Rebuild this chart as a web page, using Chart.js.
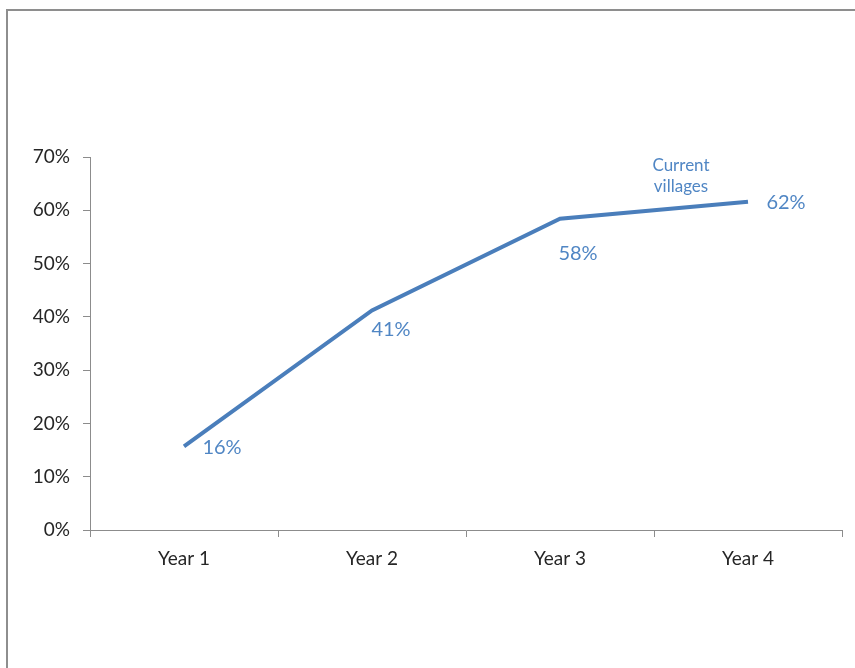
<!DOCTYPE html>
<html>
<head>
<meta charset="utf-8">
<script src="https://cdn.jsdelivr.net/npm/chart.js@4"></script>
<style>
  html, body { margin: 0; padding: 0; background: #fff; }
  #wrap { position: relative; width: 855px; height: 668px; }
</style>
</head>
<body>
<div id="wrap"><canvas id="chart"></canvas></div>
<script>
// данные
const years = ['Year 1', 'Year 2', 'Year 3', 'Year 4'];
const share = [0.157, 0.412, 0.584, 0.616];
const yTicks = [0, 0.1, 0.2, 0.3, 0.4, 0.5, 0.6, 0.7];
const note = ['Current', 'villages'];

const blue = '#4A7EBB';
const labelBlue = '#5086C4';
const axisGray = '#8C8C8C';
const font = 'Lato';

// рамка слева и сверху
const framePlugin = {
    id: 'frame',
    beforeDraw(chart) {
        const c = chart.ctx;
        c.save();
        c.strokeStyle = '#8E8E8E';
        c.lineWidth = 2;
        c.beginPath();
        c.moveTo(7, chart.height);
        c.lineTo(7, 10);
        c.lineTo(chart.width, 10);
        c.stroke();
        c.restore();
    },
};

// подписи значений
const labelsPlugin = {
    id: 'pointLabels',
    afterDatasetsDraw(chart, args, opts) {
        const c = chart.ctx;
        const pts = chart.getDatasetMeta(0).data;
        c.save();
        c.fillStyle = labelBlue;
        c.textAlign = 'center';
        c.textBaseline = 'middle';
        c.font = '20px ' + font;
        pts.forEach((p, i) => {
            const off = opts.offsets[i];
            const txt = Math.round(share[i] * 100) + '%';
            c.fillText(txt, p.x + off[0], p.y + off[1]);
        });
        // примечание у последней точки
        const last = pts[pts.length - 1];
        c.font = '17px ' + font;
        note.forEach((line, k) => {
            c.fillText(line, last.x - 67, last.y - 36 + k * 21);
        });
        c.restore();
    },
};

const ctx = document.getElementById('chart').getContext('2d');
new Chart(ctx, {
    type: 'line',
    data: {
        labels: years,
        datasets: [{
            data: share,
            borderColor: blue,
            borderWidth: 4,
            pointRadius: 0,
            tension: 0,
            fill: false,
        }],
    },
    options: {
        responsive: true,
        maintainAspectRatio: false,
        animation: false,
        events: [],
        layout: { padding: { top: 157, right: 13, left: 0, bottom: 0 } },
        plugins: {
            legend: { display: false },
            tooltip: { enabled: false },
            pointLabels: {
                offsets: [[38, 1], [19, 19], [18, 35], [38, 1]],
            },
        },
        scales: {
            x: {
                offset: true,
                grid: {
                    offset: true,
                    drawOnChartArea: false,
                    drawTicks: true,
                    tickLength: 7,
                    color: axisGray,
                },
                border: { display: true, color: axisGray, width: 1 },
                ticks: {
                    color: '#262626',
                    font: { family: font, size: 19 },
                    padding: 10,
                    maxRotation: 0,
                },
                afterFit: (s) => { s.height = 668 - 530; },
            },
            y: {
                min: 0,
                max: 0.7,
                afterBuildTicks: (s) => { s.ticks = yTicks.map(v => ({ value: v })); },
                grid: {
                    drawOnChartArea: false,
                    drawTicks: true,
                    tickLength: 7,
                    color: axisGray,
                },
                border: { display: true, color: axisGray, width: 1 },
                ticks: {
                    color: '#262626',
                    font: { family: font, size: 19 },
                    padding: 13,
                    callback: (v) => Math.round(v * 100) + '%',
                },
                afterFit: (s) => { s.width = 90; },
            },
        },
    },
    plugins: [framePlugin, labelsPlugin],
});
</script>
</body>
</html>
